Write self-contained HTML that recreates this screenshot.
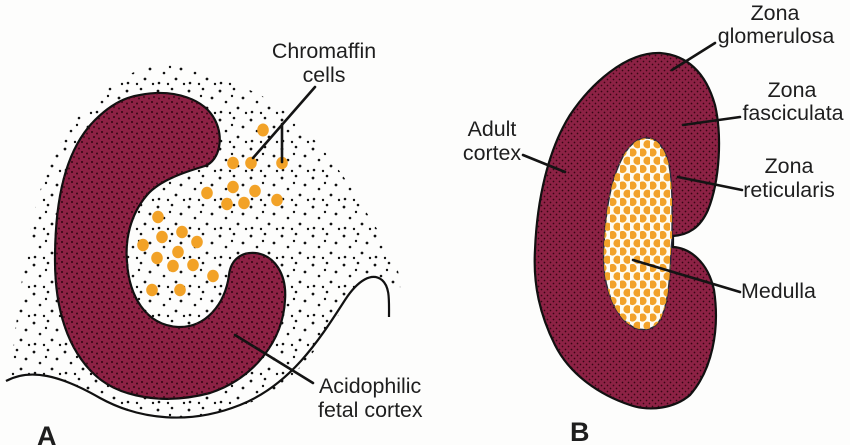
<!DOCTYPE html>
<html>
<head>
<meta charset="utf-8">
<style>
  html, body { margin: 0; padding: 0; background: #fdfdfc; }
  body { width: 850px; height: 445px; overflow: hidden; }
  svg { display: block; }
  text { font-family: "Liberation Sans", Arial, sans-serif; fill: #1e1e1e; }
</style>
</head>
<body>
<svg width="850" height="445" viewBox="0 0 850 445" xmlns="http://www.w3.org/2000/svg">
  <defs>
    <!-- stipple -->
    <pattern id="stip" width="31" height="29" patternUnits="userSpaceOnUse">
      <circle cx="3" cy="4" r="1.4" fill="#111"/>
      <circle cx="17" cy="2" r="1.3" fill="#111"/>
      <circle cx="26" cy="11" r="1.4" fill="#111"/>
      <circle cx="9" cy="15" r="1.3" fill="#111"/>
      <circle cx="21" cy="21" r="1.4" fill="#111"/>
      <circle cx="4" cy="25" r="1.3" fill="#111"/>
      <circle cx="13" cy="26" r="1.2" fill="#111"/>
      <circle cx="29" cy="26" r="1.2" fill="#111"/>
      <circle cx="15" cy="9" r="1.2" fill="#111"/>
    </pattern>
    <!-- dense dots on maroon (A) -->
    <pattern id="mdots" width="10" height="10" patternUnits="userSpaceOnUse">
      <circle cx="2" cy="2" r="1.05" fill="#350712"/>
      <circle cx="7" cy="3.5" r="1" fill="#350712"/>
      <circle cx="4" cy="7" r="1.05" fill="#350712"/>
      <circle cx="9" cy="8.5" r="0.95" fill="#350712"/>
    </pattern>
    <!-- fine dots on maroon (B) -->
    <pattern id="kdots" width="6" height="6" patternUnits="userSpaceOnUse">
      <circle cx="1.5" cy="1.5" r="0.85" fill="#360712"/>
      <circle cx="4.5" cy="4.5" r="0.85" fill="#360712"/>
    </pattern>
    <!-- orange medulla cells -->
    <pattern id="odots" width="10" height="16.5" patternUnits="userSpaceOnUse">
      <circle cx="2.5" cy="4" r="4.1" fill="#f2a22a"/>
      <circle cx="7.5" cy="12.25" r="4.1" fill="#f2a22a"/>
    </pattern>
    <clipPath id="regionA">
      <path d="M 10,378 C 14,345 18,300 26,255 C 32,210 45,165 70,128 C 90,98 118,76 150,66 C 185,58 225,78 262,96 C 300,118 335,160 362,205 C 382,238 402,262 400,290 L 394,300 C 386,272 365,270 350,295 C 325,340 292,392 240,406 C 190,424 140,420 100,398 C 60,376 30,368 10,378 Z"/>
    </clipPath>
  </defs>

  <rect width="850" height="445" fill="#fdfdfc"/>

  <!-- ============ PANEL A ============ -->
  <g clip-path="url(#regionA)">
    <rect x="0" y="50" width="410" height="380" fill="url(#stip)"/>
  </g>

  <!-- wavy line -->
  <path d="M 6,381 C 30,368 60,375 100,398 C 140,420 190,425 240,405 C 290,385 318,342 345,300 C 358,280 372,272 382,280 C 390,287 389,300 389,317"
        fill="none" stroke="#111" stroke-width="2.2"/>

  <!-- C-shaped fetal cortex -->
  <path d="M 140,95 C 175,88 205,100 215,120 C 224,137 220,160 205,166 C 185,172 160,180 147,195 C 130,215 125,240 127,262 C 129,295 145,325 178,327 C 205,328 225,305 229,275 C 231,258 243,252 255,253 C 275,255 287,275 285,300 C 283,340 255,378 210,393 C 165,405 120,398 95,375 C 68,350 55,310 55,260 C 55,200 65,150 95,120 C 110,105 125,97 140,95 Z"
        fill="#8d2245" stroke="#111" stroke-width="2.2"/>
  <path d="M 140,95 C 175,88 205,100 215,120 C 224,137 220,160 205,166 C 185,172 160,180 147,195 C 130,215 125,240 127,262 C 129,295 145,325 178,327 C 205,328 225,305 229,275 C 231,258 243,252 255,253 C 275,255 287,275 285,300 C 283,340 255,378 210,393 C 165,405 120,398 95,375 C 68,350 55,310 55,260 C 55,200 65,150 95,120 C 110,105 125,97 140,95 Z"
        fill="url(#mdots)"/>

  <!-- chromaffin cells -->
  <g fill="#f2a227">
    <ellipse cx="263" cy="130" rx="5.8" ry="6.5"/>
    <ellipse cx="233" cy="163" rx="5.8" ry="6.2"/>
    <ellipse cx="251" cy="163" rx="5.8" ry="6.2"/>
    <ellipse cx="282" cy="163" rx="5.8" ry="6.2"/>
    <ellipse cx="207" cy="193" rx="5.8" ry="6.2"/>
    <ellipse cx="233" cy="187" rx="5.8" ry="6.2"/>
    <ellipse cx="255" cy="191" rx="5.8" ry="6.2"/>
    <ellipse cx="227" cy="204" rx="5.8" ry="6.2"/>
    <ellipse cx="244" cy="203" rx="5.8" ry="6.2"/>
    <ellipse cx="277" cy="200" rx="5.8" ry="6.2"/>
    <ellipse cx="158" cy="217" rx="5.8" ry="6.2"/>
    <ellipse cx="162" cy="237" rx="5.8" ry="6.2"/>
    <ellipse cx="182" cy="232" rx="5.8" ry="6.2"/>
    <ellipse cx="197" cy="242" rx="5.8" ry="6.2"/>
    <ellipse cx="143" cy="245" rx="5.8" ry="6.2"/>
    <ellipse cx="178" cy="252" rx="5.8" ry="6.2"/>
    <ellipse cx="157" cy="258" rx="5.8" ry="6.2"/>
    <ellipse cx="173" cy="266" rx="5.8" ry="6.2"/>
    <ellipse cx="193" cy="265" rx="5.8" ry="6.2"/>
    <ellipse cx="213" cy="276" rx="5.8" ry="6.2"/>
    <ellipse cx="152" cy="290" rx="5.8" ry="6.2"/>
    <ellipse cx="180" cy="290" rx="5.8" ry="6.2"/>
  </g>

  <!-- leaders A -->
  <g stroke="#141414" stroke-width="2.6" stroke-linecap="round" fill="none">
    <line x1="253" y1="158" x2="315" y2="87"/>
    <line x1="282" y1="162" x2="282" y2="124"/>
    <line x1="235" y1="335" x2="313" y2="383"/>
  </g>

  <text x="324" y="58" font-size="21.4" text-anchor="middle">Chromaffin</text>
  <text x="324" y="82" font-size="21.4" text-anchor="middle">cells</text>
  <text x="319" y="393" font-size="21.4">Acidophilic</text>
  <text x="318" y="417" font-size="21.4">fetal cortex</text>
  <text x="37" y="445" font-size="27" font-weight="bold">A</text>

  <!-- ============ PANEL B ============ -->
  <path d="M 660,53 C 685,55 705,70 715,105 C 722,135 720,180 708,210 C 700,228 688,235 673,236 L 673,247 C 690,248 708,262 714,290 C 720,330 712,370 690,395 C 675,408 650,412 630,405 C 600,395 570,375 555,345 C 540,315 533,285 535,250 C 537,200 548,150 570,115 C 590,85 625,52 660,53 Z"
        fill="#8d2245"/>
  <path d="M 660,53 C 685,55 705,70 715,105 C 722,135 720,180 708,210 C 700,228 688,235 673,236 L 673,247 C 690,248 708,262 714,290 C 720,330 712,370 690,395 C 675,408 650,412 630,405 C 600,395 570,375 555,345 C 540,315 533,285 535,250 C 537,200 548,150 570,115 C 590,85 625,52 660,53 Z"
        fill="url(#kdots)" stroke="#111" stroke-width="2.2"/>

  <!-- medulla -->
  <path d="M 647,138 C 657,138 665,148 669,165 C 673,185 672,215 672,240 L 671,250 C 670,280 668,305 660,320 C 652,333 635,333 622,318 C 608,300 602,275 604,245 C 606,205 612,175 625,153 C 632,142 640,138 647,138 Z"
        fill="#fefcf3" stroke="#2a2a3a" stroke-width="1.4"/>
  <path d="M 647,138 C 657,138 665,148 669,165 C 673,185 672,215 672,240 L 671,250 C 670,280 668,305 660,320 C 652,333 635,333 622,318 C 608,300 602,275 604,245 C 606,205 612,175 625,153 C 632,142 640,138 647,138 Z"
        fill="url(#odots)"/>

  <!-- leaders B -->
  <g stroke="#141414" stroke-width="2.6" stroke-linecap="round" fill="none">
    <line x1="672" y1="70" x2="715" y2="43"/>
    <line x1="683" y1="125" x2="740" y2="117"/>
    <line x1="678" y1="177" x2="742" y2="190"/>
    <line x1="523" y1="155" x2="565" y2="172"/>
    <line x1="633" y1="260" x2="740" y2="292"/>
  </g>

  <text x="775" y="20" font-size="21.4" text-anchor="middle">Zona</text>
  <text x="776" y="43" font-size="21.4" text-anchor="middle">glomerulosa</text>
  <text x="792" y="97" font-size="21.4" text-anchor="middle">Zona</text>
  <text x="793" y="120" font-size="21.4" text-anchor="middle">fasciculata</text>
  <text x="789" y="173" font-size="21.4" text-anchor="middle">Zona</text>
  <text x="789" y="197" font-size="21.4" text-anchor="middle">reticularis</text>
  <text x="492" y="136" font-size="21.4" text-anchor="middle">Adult</text>
  <text x="492" y="160" font-size="21.4" text-anchor="middle">cortex</text>
  <text x="741" y="298" font-size="21.4">Medulla</text>
  <text x="570" y="441" font-size="27" font-weight="bold">B</text>
</svg>
</body>
</html>
